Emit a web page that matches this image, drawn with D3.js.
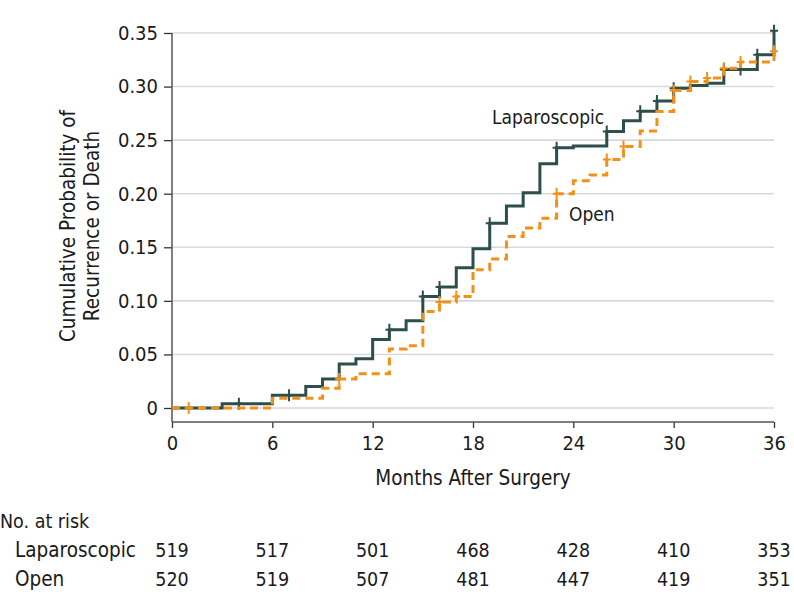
<!DOCTYPE html>
<html>
<head>
<meta charset="utf-8">
<script src="https://cdn.jsdelivr.net/npm/d3@7"></script>
<style>
  html, body { margin: 0; padding: 0; background: #fff; }
  svg text { font-family: "DejaVu Sans Condensed", "DejaVu Sans", sans-serif; font-stretch: condensed; fill: #1a1a1a; }
</style>
</head>
<body>
<svg id="chart" width="794" height="605"></svg>
<script>
// ---- Data ----
const lapTimes  = [0, 3, 6, 8, 9, 10, 11, 12, 13, 14, 15, 16, 17, 18, 19, 20, 21, 22, 23, 24, 26, 27, 28, 29, 30, 31, 32, 33, 35, 36];
const lapValues = [0, 0.004, 0.012, 0.020, 0.027, 0.041, 0.046, 0.064, 0.073, 0.0815, 0.104, 0.113, 0.131, 0.1487, 0.1724, 0.1886, 0.201, 0.228, 0.243, 0.2446, 0.258, 0.268, 0.277, 0.2866, 0.2985, 0.301, 0.303, 0.316, 0.3296, 0.352];
const lapCensor = [4, 7, 13, 15, 16, 19, 23, 26, 28, 29, 30, 33, 34, 35, 36];

const openTimes  = [0, 6, 9, 10, 11, 13, 14, 15, 16, 17, 18, 19, 20, 21, 22, 23, 24, 25, 26, 27, 28, 29, 30, 31, 32, 33, 34, 36];
const openValues = [0, 0.009, 0.0184, 0.027, 0.032, 0.055, 0.058, 0.090, 0.099, 0.104, 0.129, 0.139, 0.160, 0.168, 0.177, 0.200, 0.212, 0.2175, 0.232, 0.244, 0.2586, 0.2767, 0.2963, 0.3047, 0.308, 0.317, 0.323, 0.333];
const openCensor = [1, 10, 16, 17, 23, 26, 27, 30, 31, 32, 33, 34, 36];

const xTicks = [0, 6, 12, 18, 24, 30, 36];
const yTicks = [0, 0.05, 0.10, 0.15, 0.20, 0.25, 0.30, 0.35];
const yTickLabels = ["0", "0.05", "0.10", "0.15", "0.20", "0.25", "0.30", "0.35"];

const riskGroups = ["Laparoscopic", "Open"];
const riskLap  = [519, 517, 501, 468, 428, 410, 353];
const riskOpen = [520, 519, 507, 481, 447, 419, 351];

// ---- Layout ----
const svg = d3.select("#chart");
const LAP_COLOR = "#2d4f4c";
const OPEN_COLOR = "#f39019";
const x = d3.scaleLinear().domain([0, 36]).range([172, 774]);
const y = d3.scaleLinear().domain([0, 0.35]).range([408, 33]);
const axisY0 = 422;

// gridlines
svg.append("g").selectAll("line").data(yTicks).join("line")
  .attr("x1", x(0)).attr("x2", x(36))
  .attr("y1", d => y(d)).attr("y2", d => y(d))
  .attr("stroke", "#d9d9d9").attr("stroke-width", 1.6);

// y axis
const yAxis = d3.axisLeft(y).tickValues(yTicks).tickFormat((d, i) => yTickLabels[i]).tickSize(8).tickPadding(6);
const gy = svg.append("g").attr("transform", `translate(${x(0)},0)`).call(yAxis);
gy.select(".domain").remove();
gy.append("line").attr("x1", 0).attr("x2", 0).attr("y1", y(0.35)).attr("y2", axisY0)
  .attr("stroke", "#555").attr("stroke-width", 1.5);
gy.selectAll(".tick line").attr("stroke", "#333").attr("stroke-width", 1.3);
gy.selectAll(".tick text").style("font-size", "20px").attr("fill", "#1a1a1a");

// x axis
const xAxis = d3.axisBottom(x).tickValues(xTicks).tickSize(6).tickPadding(8);
const gx = svg.append("g").attr("transform", `translate(0,${axisY0})`).call(xAxis);
gx.select(".domain").remove();
gx.append("line").attr("x1", x(0)).attr("x2", x(36)).attr("y1", 0).attr("y2", 0)
  .attr("stroke", "#555").attr("stroke-width", 1.5);
gx.selectAll(".tick line").attr("stroke", "#333").attr("stroke-width", 1.3);
gx.selectAll(".tick text").style("font-size", "20px").attr("fill", "#1a1a1a");
svg.selectAll("g").attr("font-family", null).attr("font-size", null);

// titles
svg.append("text").attr("x", 473).attr("y", 478).attr("text-anchor", "middle")
  .attr("dominant-baseline", "central").style("font-size", "20.5px").text("Months After Surgery");
const yt = svg.append("g").attr("transform", "translate(0,226) rotate(-90)");
yt.append("text").attr("x", 0).attr("y", 68).attr("text-anchor", "middle")
  .attr("dominant-baseline", "central").style("font-size", "20.5px").text("Cumulative Probability of");
yt.append("text").attr("x", 0).attr("y", 92).attr("text-anchor", "middle")
  .attr("dominant-baseline", "central").style("font-size", "20.5px").text("Recurrence or Death");

// curves
const stepLine = d3.line().x(d => x(d[0])).y(d => y(d[1])).curve(d3.curveStepAfter);
const lapPts = lapTimes.map((t, i) => [t, lapValues[i]]);
const openPts = openTimes.map((t, i) => [t, openValues[i]]);

function valueAt(times, values, t) {
  let v = values[0];
  for (let i = 0; i < times.length; i++) if (times[i] <= t) v = values[i];
  return v;
}

svg.append("path").attr("d", stepLine(lapPts)).attr("fill", "none")
  .attr("stroke", LAP_COLOR).attr("stroke-width", 3);
svg.append("g").selectAll("path").data(lapCensor).join("path")
  .attr("d", t => { const cx = x(t), cy = y(valueAt(lapTimes, lapValues, t));
    return `M${cx - 4},${cy}H${cx + 4}M${cx},${cy - 6}V${cy + 6}`; })
  .attr("stroke", LAP_COLOR).attr("stroke-width", 2);

svg.append("path").attr("d", stepLine(openPts)).attr("fill", "none")
  .attr("stroke", OPEN_COLOR).attr("stroke-width", 3).attr("stroke-dasharray", "8,5");
svg.append("g").selectAll("path").data(openCensor).join("path")
  .attr("d", t => { const cx = x(t), cy = y(valueAt(openTimes, openValues, t));
    return `M${cx - 4},${cy}H${cx + 4}M${cx},${cy - 6}V${cy + 6}`; })
  .attr("stroke", OPEN_COLOR).attr("stroke-width", 2);

// curve labels
svg.append("text").attr("x", 492).attr("y", 117).attr("dominant-baseline", "central")
  .style("font-size", "19px").text("Laparoscopic");
svg.append("text").attr("x", 569).attr("y", 214).attr("dominant-baseline", "central")
  .style("font-size", "19px").text("Open");

// risk table
svg.append("text").attr("x", 0).attr("y", 521).attr("dominant-baseline", "central")
  .style("font-size", "19.5px").text("No. at risk");
const riskRows = [riskLap, riskOpen];
const rowY = [550, 579];
riskGroups.forEach((g, gi) => {
  svg.append("text").attr("x", 15).attr("y", rowY[gi]).attr("dominant-baseline", "central")
    .style("font-size", "20.5px").text(g);
  svg.append("g").selectAll("text").data(riskRows[gi]).join("text")
    .attr("x", (d, i) => x(xTicks[i])).attr("y", rowY[gi])
    .attr("text-anchor", "middle").attr("dominant-baseline", "central")
    .style("font-size", "19.5px").text(d => d);
});
</script>
</body>
</html>
